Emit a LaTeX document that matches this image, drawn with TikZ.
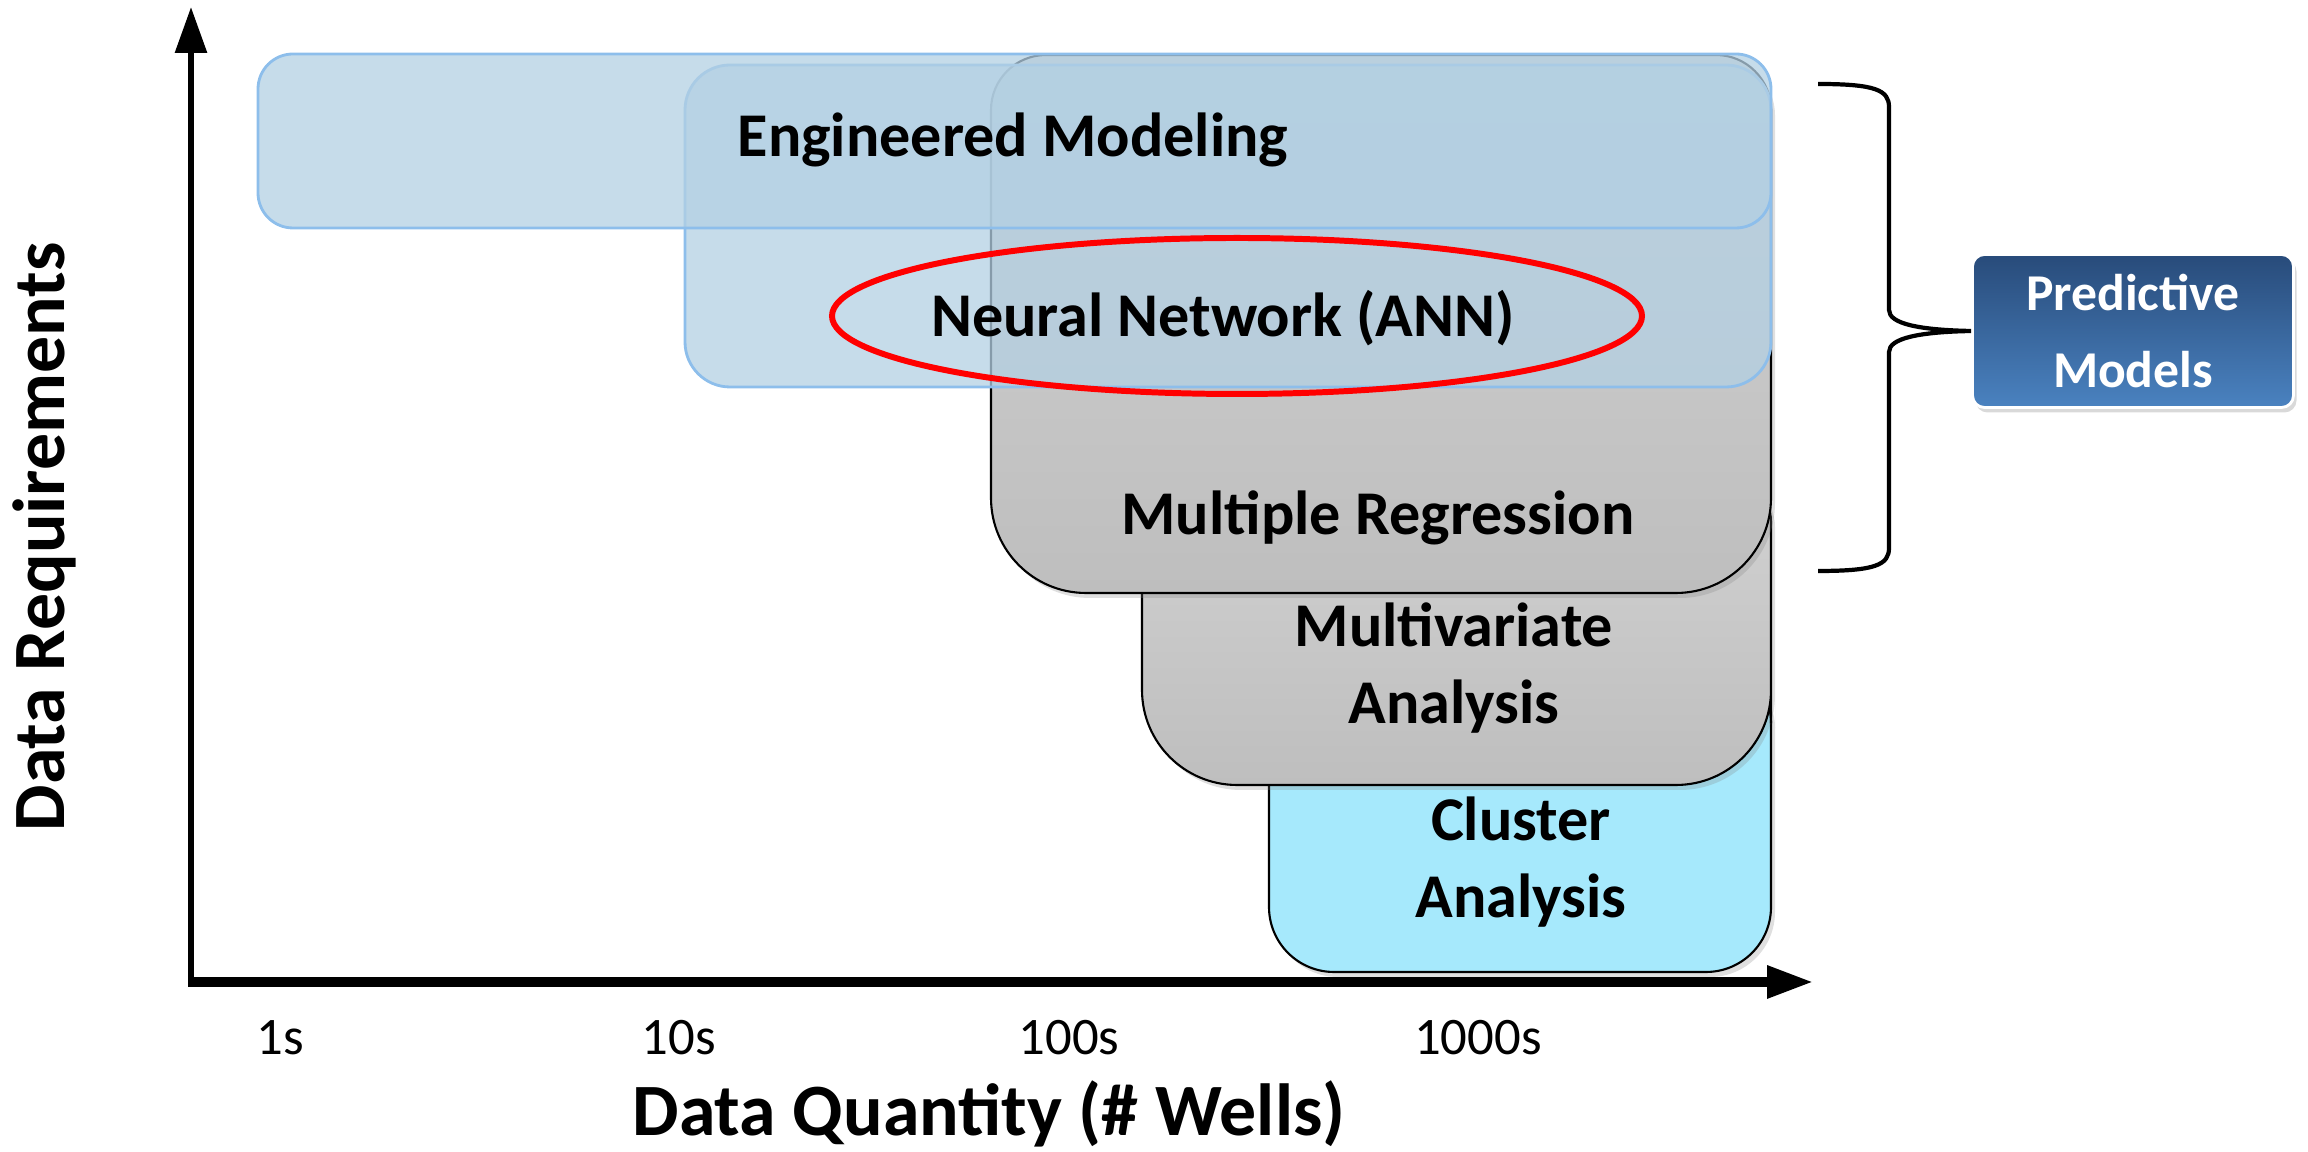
\documentclass[tikz,border=0pt]{standalone}
\usepackage{fontspec}
\setmainfont{Carlito}
\usetikzlibrary{arrows.meta,shadows}
\definecolor{emblue}{RGB}{179,208,227}
\definecolor{emedge}{RGB}{141,190,235}
\definecolor{regtop}{RGB}{210,210,210}
\definecolor{regbot}{RGB}{190,190,190}
\definecolor{clfill}{RGB}{166,233,252}
\definecolor{pmtop}{RGB}{40,75,122}
\definecolor{pmbot}{RGB}{74,130,192}
% box with its own radius for the top and for the bottom corners
\def\tabbox[#1](#2,#3)(#4,#5)(#6:#7){\draw[#1] ({(#2+#4)/2},#5) [rounded corners=#6cm] -| (#2,{(#3+#5)/2}) [rounded corners=#7cm] |- (#4,#3) -- (#4,{(#3+#5)/2}) [rounded corners=#6cm] -- (#4,#5) -- cycle;}

\begin{document}
\begin{tikzpicture}[
		lbl/.style={font=\fontsize{17.7}{21.8}\selectfont\bfseries, align=center},
		ttl/.style={font=\fontsize{21}{25}\selectfont\bfseries},
		tick/.style={font=\fontsize{15}{18}\selectfont},
		grbox/.style={draw=black, line width=0.6pt, drop shadow={opacity=0.25, shadow xshift=0.04cm, shadow yshift=-0.05cm}},
		blubox/.style={draw=emedge, line width=0.8pt, fill=emblue, fill opacity=0.75, rounded corners=#1},
		axis/.style={-{Triangle[length=4.6mm,width=3.1mm]}}
	]
		%%%%% START %%%%%
		\useasboundingbox (0,0) rectangle (23.08,11.52);
		
		% grey and cyan boxes, lowest first
		\tabbox[grbox, fill=clfill](12.69,1.80)(17.71,4.80)(0.5:0.65);
		\tabbox[grbox, top color=regtop, bottom color=regbot](11.42,3.67)(17.71,6.80)(0.5:0.95);
		\tabbox[grbox, top color=regtop, bottom color=regbot](9.91,5.59)(17.71,10.97)(0.55:0.95);
		
		% blue boxes
		\draw[blubox=0.45cm] (6.85,7.65) rectangle (17.71,10.87);
		\draw[blubox=0.35cm] (2.58,9.24) rectangle (17.71,10.98);
		
		\draw[red, line width=1.7pt] (12.37,8.36) ellipse [x radius=4.05, y radius=0.78];
		
		\node[lbl] (em) at (10.13,10.12) {Engineered Modeling};
		\node[lbl] (ann) at (12.23,8.34) {Neural Network (ANN)};
		\node[lbl] (mreg) at (13.78,6.34) {Multiple Regression};
		\node[lbl] (mva) at (14.54,4.84) {Multivariate\\Analysis};
		\node[lbl] (clu) at (15.21,2.90) {Cluster\\Analysis};
		
		% predictive group
		\node[draw=white, line width=0.8pt, rounded corners=0.12cm, top color=pmtop, bottom color=pmbot,
			minimum width=3.21cm, minimum height=1.53cm, inner sep=0pt, text=white, align=center,
			font=\fontsize{14.7}{21.8}\selectfont\bfseries,
			drop shadow={opacity=0.3, shadow xshift=0.03cm, shadow yshift=-0.05cm}] (pred) at (21.33,8.21) {Predictive\\Models};
		\coordinate (brTop) at (18.18,10.68);
		\coordinate (brBot) at (18.18,5.81);
		\draw[line width=1.2pt] (brTop) .. controls (18.75,10.68) and (18.89,10.62) .. (18.89,10.45) -- (18.89,8.42)
			.. controls (18.89,8.28) and (19.2,8.22) .. (pred.west)
			.. controls (19.2,8.20) and (18.89,8.14) .. (18.89,8.00) -- (18.89,6.04)
			.. controls (18.89,5.87) and (18.75,5.81) .. (brBot);
		
		% axes
		\coordinate (O) at (1.91,1.70);
		\coordinate (yend) at (1.91,11.45);
		\coordinate (xend) at (18.13,1.70);
		\draw[axis, line width=1.7pt] (O) -- (yend);
		\draw[axis, line width=2.6pt] ([xshift=-0.85pt]O) -- (xend);
		
		\node[tick] (q1) at (2.80,1.14) {1s};
		\node[tick] (q10) at (6.79,1.14) {10s};
		\node[tick] (q100) at (10.69,1.14) {100s};
		\node[tick] (q1000) at (14.78,1.14) {1000s};
		
		\node[ttl] (xlab) at (9.89,0.38) {Data Quantity (\# Wells)};
		\node[ttl, rotate=90] (ylab) at (0.44,6.15) {Data Requirements};
		
		%%%%% END %%%%%
\end{tikzpicture}
\end{document}
